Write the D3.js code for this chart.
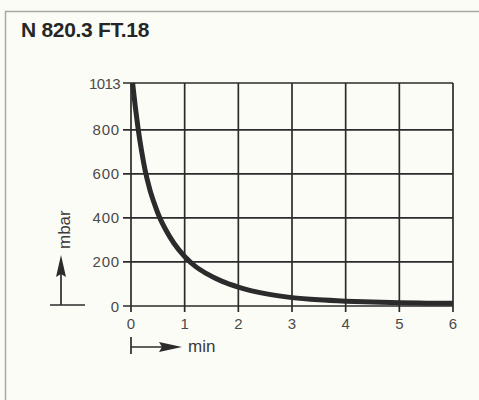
<html>
<head>
    <script src="https://d3js.org/d3.v7.min.js"></script>
</head>
<body style="margin:0;background:#fcfcf7">
    <svg id="pump_down" width="479" height="400"></svg>
</body>
<style>
    text{font-family: "Liberation Sans", Arial, sans-serif}
</style>
<script>

    // pump-down curve
    const timeMin = [0.03, 0.08, 0.13, 0.2, 0.26, 0.35, 0.45, 0.52, 0.65, 0.8, 1.0, 1.2, 1.4, 1.7, 2.0, 2.5, 3.0, 3.5, 4.0, 4.5, 5.0, 5.5, 6.0]
    const pressure = [1013, 905, 810, 700, 620, 530, 455, 410, 345, 285, 225, 180, 148, 112, 86, 56, 38, 28, 22, 18, 15, 13, 12]
    const xTicks = [0, 1, 2, 3, 4, 5, 6]
    const yTicks = [0, 200, 400, 600, 800, 1013]

    let svg = d3.select('svg#pump_down');
    const ink = '#2b2b2b'

    // card frame
    svg.append('rect').attr('width', 479).attr('height', 400).attr('fill', '#fcfcf7')
    svg.append('path')
       .attr('d', 'M5.5,400 V11.5 H479')
       .attr('fill', 'none').attr('stroke', '#a9a9a4').attr('stroke-width', 1.5)

    svg.append('text')
       .text('N 820.3 FT.18')
       .attr('x', 21).attr('y', 37)
       .attr('font-size', '21px').attr('font-weight', 'bold')
       .attr('letter-spacing', '-0.3px')
       .attr('fill', '#262626')

    let x = d3.scaleLinear().domain([0, 6]).range([131, 453])
    let y = d3.scaleLinear().domain([0, 1013]).range([306, 83])

    let grid = svg.append('g')

    grid.selectAll('line.vgrid')
        .data(xTicks)
        .join('line')
        .attr('class', 'vgrid')
        .attr('x1', d => x(d)).attr('x2', d => x(d))
        .attr('y1', y(1013)).attr('y2', y(0) + 6)
        .attr('stroke', ink).attr('stroke-width', 1.7)

    grid.selectAll('line.hgrid')
        .data(yTicks)
        .join('line')
        .attr('class', 'hgrid')
        .attr('x1', x(0) - 8).attr('x2', x(6))
        .attr('y1', d => y(d)).attr('y2', d => y(d))
        .attr('stroke', ink).attr('stroke-width', 1.7)

    svg.selectAll('text.ylab')
       .data(yTicks)
       .join('text')
       .attr('class', 'ylab')
       .attr('x', 120).attr('y', d => y(d) + 5.5)
       .attr('text-anchor', 'end')
       .attr('font-size', '15px').attr('fill', '#4a4a4a')
       .attr('letter-spacing', d => d == 1013 ? '-0.6px' : '0.8px')
       .text(d => d)

    svg.selectAll('text.xlab')
       .data(xTicks)
       .join('text')
       .attr('class', 'xlab')
       .attr('x', d => x(d)).attr('y', 329)
       .attr('text-anchor', 'middle')
       .attr('font-size', '15px').attr('fill', '#4a4a4a')
       .text(d => d)

    let pts = timeMin.map((t, i) => [t, pressure[i]])
    let line = d3.line()
                 .x(d => x(d[0]))
                 .y(d => y(d[1]))
                 .curve(d3.curveMonotoneX)

    svg.append('path')
       .datum(pts)
       .attr('d', line)
       .attr('fill', 'none')
       .attr('stroke', ink)
       .attr('stroke-width', 5)

    // y axis label with arrow
    let ya = svg.append('g')
    ya.append('line').attr('x1', 50).attr('x2', 85).attr('y1', 305).attr('y2', 305)
      .attr('stroke', ink).attr('stroke-width', 1.7)
    ya.append('line').attr('x1', 61).attr('x2', 61).attr('y1', 305).attr('y2', 272)
      .attr('stroke', ink).attr('stroke-width', 1.7)
    ya.append('path').attr('d', 'M61,255 L66,277 L61,274 L56,277 Z').attr('fill', ink)
    ya.append('text').text('mbar')
      .attr('transform', 'translate(70,249) rotate(-90)')
      .attr('font-size', '17px').attr('fill', '#3a3a3a')

    // x axis label with arrow
    let xa = svg.append('g')
    xa.append('line').attr('x1', 131).attr('x2', 131).attr('y1', 337).attr('y2', 354)
      .attr('stroke', ink).attr('stroke-width', 1.7)
    xa.append('line').attr('x1', 131).attr('x2', 165).attr('y1', 347).attr('y2', 347)
      .attr('stroke', ink).attr('stroke-width', 1.7)
    xa.append('path').attr('d', 'M182,347 L159,342 L162,347 L159,352 Z').attr('fill', ink)
    xa.append('text').text('min')
      .attr('x', 188).attr('y', 352)
      .attr('font-size', '17px').attr('fill', '#3a3a3a')

</script>
</html>
